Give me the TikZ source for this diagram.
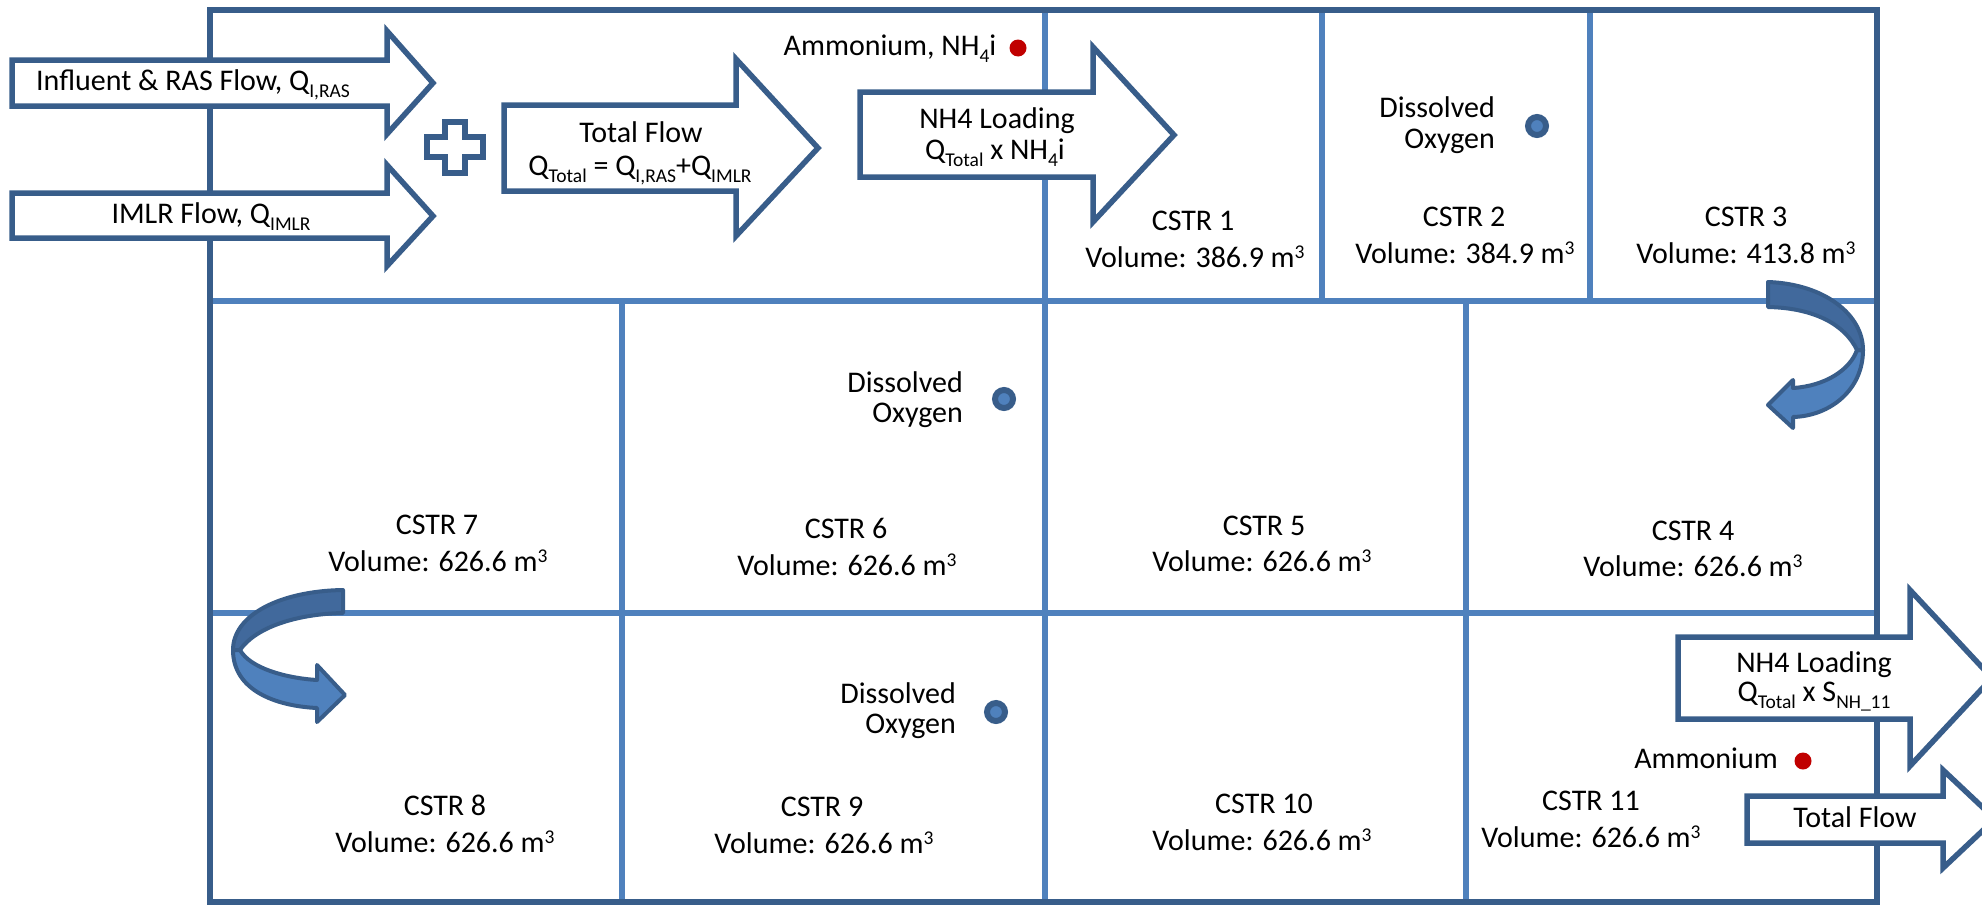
\documentclass[tikz,border=0pt]{standalone}
\usepackage{fontspec}
\setmainfont{Carlito}
\definecolor{frameblue}{HTML}{385D8A}
\definecolor{lineblue}{HTML}{4F81BD}
\definecolor{ribbonback}{HTML}{41699C}
\definecolor{markred}{HTML}{C00000}
% small lowered / raised text in the label font
\newcommand{\lsub}[1]{\raisebox{-7pt}{\fontsize{19.5}{20}\selectfont #1}}
\newcommand{\cubic}{m\raisebox{8.5pt}{\fontsize{19.5}{20}\selectfont 3}}

\begin{document}
\begin{tikzpicture}[x=1pt,y=-1pt,
  lbl/.style={font=\fontsize{30}{36}\selectfont, inner sep=0pt, anchor=base},
  lblr/.style={lbl, anchor=base east},
  outerframe/.style={draw=frameblue, line width=6pt},
  divider/.style={draw=lineblue, line width=5.5pt},
  flowarrow/.style={draw=frameblue, fill=white, line width=5.5pt, line join=miter},
  ribbon/.style={draw=frameblue, line width=4pt, line join=round},
  dodot/.style={circle, draw=frameblue, fill=lineblue, line width=6pt, minimum size=18pt, inner sep=0pt},
  nhdot/.style={circle, fill=markred, minimum size=17pt, inner sep=0pt}]

\useasboundingbox (0,0) rectangle (1982,905);

% ---- reactor grid ----
\draw[divider] (210,301) -- (1877,301);
\draw[divider] (210,613) -- (1877,613);
\draw[divider] (1045,10) -- (1045,301);
\draw[divider] (1322,10) -- (1322,301);
\draw[divider] (1590,10) -- (1590,301);
\draw[divider] (622,301) -- (622,613);
\draw[divider] (1045,301) -- (1045,613);
\draw[divider] (1466,301) -- (1466,613);
\draw[divider] (622,613) -- (622,903);
\draw[divider] (1045,613) -- (1045,903);
\draw[divider] (1466,613) -- (1466,903);
\draw[outerframe] (210,10) rectangle (1877,902);

% ---- inflow block arrows ----
\draw[flowarrow] (12,60) -- (387,60) -- (387,31) -- (433,83) -- (387,134) -- (387,106) -- (12,106) -- cycle;
\draw[flowarrow] (12,193) -- (387,193) -- (387,165) -- (433,216) -- (387,266) -- (387,238) -- (12,238) -- cycle;
\draw[flowarrow] (445,122) -- (465,122) -- (465,137) -- (483,137) -- (483,157) -- (465,157)
  -- (465,173) -- (445,173) -- (445,157) -- (427,157) -- (427,137) -- (445,137) -- cycle;
\draw[flowarrow] (504,105) -- (736,105) -- (736,59) -- (818,148) -- (736,236) -- (736,191) -- (504,191) -- cycle;
\draw[flowarrow] (860,92) -- (1093,92) -- (1093,47) -- (1174,135) -- (1093,222) -- (1093,177) -- (860,177) -- cycle;

% ---- outflow block arrows ----
\draw[flowarrow] (1678,637) -- (1910,637) -- (1910,590) -- (1992,678) -- (1910,766) -- (1910,719) -- (1678,719) -- cycle;
\draw[flowarrow] (1747,796) -- (1943,796) -- (1943,770) -- (1995,819) -- (1943,868) -- (1943,843) -- (1747,843) -- cycle;

% ---- U-turn ribbons between rows ----
\draw[ribbon, fill=lineblue] (1863,350) .. controls (1863,390) and (1830,416) .. (1793,417)
  -- (1793,428) -- (1768,405) -- (1793,380) -- (1793,388)
  .. controls (1825,386) and (1850,370) .. (1857,350) -- cycle;
\draw[ribbon, fill=ribbonback] (1768,282) .. controls (1825,284) and (1863,315) .. (1863,350)
  -- (1857,350) .. controls (1845,325) and (1815,308) .. (1768,307) -- cycle;

\draw[ribbon, fill=ribbonback] (343,590) .. controls (280,591) and (233,615) .. (233,650)
  -- (240,650) .. controls (255,628) and (295,614) .. (343,613) -- cycle;
\draw[ribbon, fill=lineblue] (233,650) .. controls (233,690) and (275,706) .. (317,708)
  -- (317,722) -- (345,695) -- (317,665) -- (317,680)
  .. controls (285,678) and (250,668) .. (240,650) -- cycle;

% ---- sensor markers ----
\node[nhdot] (nhin) at (1018,48) {};
\node[nhdot] (nhout) at (1803,761) {};
\node[dodot] (do2) at (1537,126) {};
\node[dodot] (do6) at (1004,399) {};
\node[dodot] (do9) at (996,712) {};

% ---- arrow labels ----
\node[lbl] (tinf) at (193,90) {Influent \& RAS Flow, Q\lsub{I,RAS}};
\node[lbl] (timlr) at (211,223) {IMLR Flow, Q\lsub{IMLR}};
\node[lbl] (ttot1) at (641,142) {Total Flow};
\node[lbl] (ttot2) at (640,175) {Q\lsub{Total} = Q\lsub{I,RAS}+Q\lsub{IMLR}};
\node[lbl] (tload1) at (997,128) {NH4 Loading};
\node[lbl] (tload2) at (995,159) {Q\lsub{Total} x NH\lsub{4}i};
\node[lbl] (tloado1) at (1814,672) {NH4 Loading};
\node[lbl] (tloado2) at (1814,701) {Q\lsub{Total} x S\lsub{NH\_11}};
\node[lbl] (ttoto) at (1855,827) {Total Flow};

% ---- sensor labels ----
\node[lbl] (tnhin) at (890,55) {Ammonium, NH\lsub{4}i};
\node[lblr] (tnhout) at (1778,768) {Ammonium};
\node[lblr] (tdo2a) at (1495,117) {Dissolved};
\node[lblr] (tdo2b) at (1495,148) {Oxygen};
\node[lblr] (tdo6a) at (963,392) {Dissolved};
\node[lblr] (tdo6b) at (963,422) {Oxygen};
\node[lblr] (tdo9a) at (956,703) {Dissolved};
\node[lblr] (tdo9b) at (956,733) {Oxygen};

% ---- reactor labels ----
\node[lbl] (c1a) at (1193,230) {CSTR 1};
\node[lbl] (c1b) at (1195,267) {Volume: 386.9 \cubic};
\node[lbl] (c2a) at (1464,226) {CSTR 2};
\node[lbl] (c2b) at (1465,263) {Volume: 384.9 \cubic};
\node[lbl] (c3a) at (1746,226) {CSTR 3};
\node[lbl] (c3b) at (1746,263) {Volume: 413.8 \cubic};

\node[lbl] (c7a) at (437,534) {CSTR 7};
\node[lbl] (c7b) at (438,571) {Volume: 626.6 \cubic};
\node[lbl] (c6a) at (846,538) {CSTR 6};
\node[lbl] (c6b) at (847,575) {Volume: 626.6 \cubic};
\node[lbl] (c5a) at (1264,535) {CSTR 5};
\node[lbl] (c5b) at (1262,571) {Volume: 626.6 \cubic};
\node[lbl] (c4a) at (1693,540) {CSTR 4};
\node[lbl] (c4b) at (1693,576) {Volume: 626.6 \cubic};

\node[lbl] (c8a) at (445,815) {CSTR 8};
\node[lbl] (c8b) at (445,852) {Volume: 626.6 \cubic};
\node[lbl] (c9a) at (822,816) {CSTR 9};
\node[lbl] (c9b) at (824,853) {Volume: 626.6 \cubic};
\node[lbl] (c10a) at (1264,813) {CSTR 10};
\node[lbl] (c10b) at (1262,850) {Volume: 626.6 \cubic};
\node[lbl] (c11a) at (1591,810) {CSTR 11};
\node[lbl] (c11b) at (1591,847) {Volume: 626.6 \cubic};
\end{tikzpicture}
\end{document}
